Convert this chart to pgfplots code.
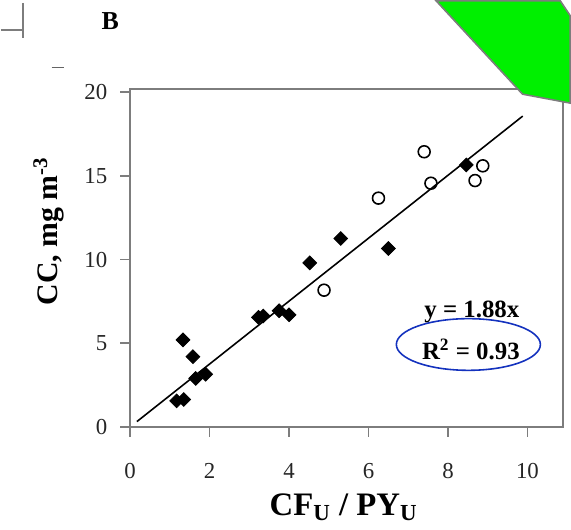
\documentclass[border=0pt]{standalone}
\usepackage{pgfplots}
\pgfplotsset{compat=1.18}
\usepackage{fontspec}
\setmainfont{Liberation Serif}
\definecolor{ellblue}{RGB}{20,50,190}
\definecolor{fr}{RGB}{125,125,125}
\definecolor{grn}{RGB}{0,240,0}
\pgfplotstableread{
x y
1.17 1.56
1.35 1.64
1.33 5.2
1.58 4.2
1.65 2.9
1.9 3.15
3.23 6.55
3.35 6.63
3.75 6.94
4.0 6.7
4.52 9.8
5.3 11.26
6.5 10.66
8.46 15.65
}\filled
\pgfplotstableread{
x y
4.88 8.17
6.25 13.67
7.4 16.44
7.57 14.56
8.68 14.72
8.875 15.6
}\open
\begin{document}
\begin{tikzpicture}
\begin{scope}[x=0.5pt,y=-0.5pt,shift={(-65pt,213.5pt)}]
\path[use as bounding box] (0,0) rectangle (571,530);
\end{scope}
\begin{axis}[at={(0,0)}, anchor=south west,
  x=20pt, y=8.425pt,
  xmin=0, xmax=10.9, ymin=0, ymax=20.18,
  axis line style={fr, line width=0.9pt},
  xtick={0,2,...,10}, ytick={0,5,...,20},
  xtick pos=bottom, ytick pos=left,
  tick align=outside, major tick length=5pt,
  tick style={fr, line width=0.9pt},
  /pgf/number format/assume math mode=true,
  ticklabel style={font=\fontsize{11.5}{13}\selectfont, text=black!85},
  xticklabel style={yshift=-10pt},
  yticklabel style={xshift=-3pt},
  clip=false]
\addplot[black, line width=0.8pt] coordinates {(0.17,0.32) (9.88,18.57)};
\addplot[only marks, mark=square*, mark size=2.45pt, mark options={rotate=45}, black] table {\filled};
\addplot[only marks, mark=o, mark size=3pt, black, line width=0.8pt] table {\open};
\end{axis}
\begin{scope}[x=0.5pt,y=-0.5pt,shift={(-65pt,213.5pt)}]
\draw[fr, line width=1pt] (22,0) -- (22,35);
\draw[fr, line width=1pt] (0,27) -- (22,27);
\draw[fr!80!black, line width=0.8pt] (51,65) -- (63,65);
\filldraw[fill=grn, draw=fr, line width=0.8pt] (438,-2) -- (525,92) -- (573,101) -- (573,13) -- (563,-2) -- cycle;
\node[font=\bfseries\fontsize{13}{15}\selectfont] at (110,18) {B};
\node[rotate=90, font=\bfseries\fontsize{15}{16}\selectfont] at (48,230) {CC, mg m\textsuperscript{-3}};
\node[font=\bfseries\fontsize{16.5}{18}\selectfont] at (345,508) {CF\textsubscript{U} / PY\textsubscript{U}};
\node[font=\bfseries\fontsize{12.5}{14}\selectfont] at (474,311) {y = 1.88x};
\node[font=\bfseries\fontsize{12.5}{14}\selectfont] at (473,349) {R\textsuperscript{2} = 0.93};
\draw[ellblue, line width=0.8pt] (470.5,344) ellipse (36.25pt and 13pt);
\end{scope}
\end{tikzpicture}
\end{document}
